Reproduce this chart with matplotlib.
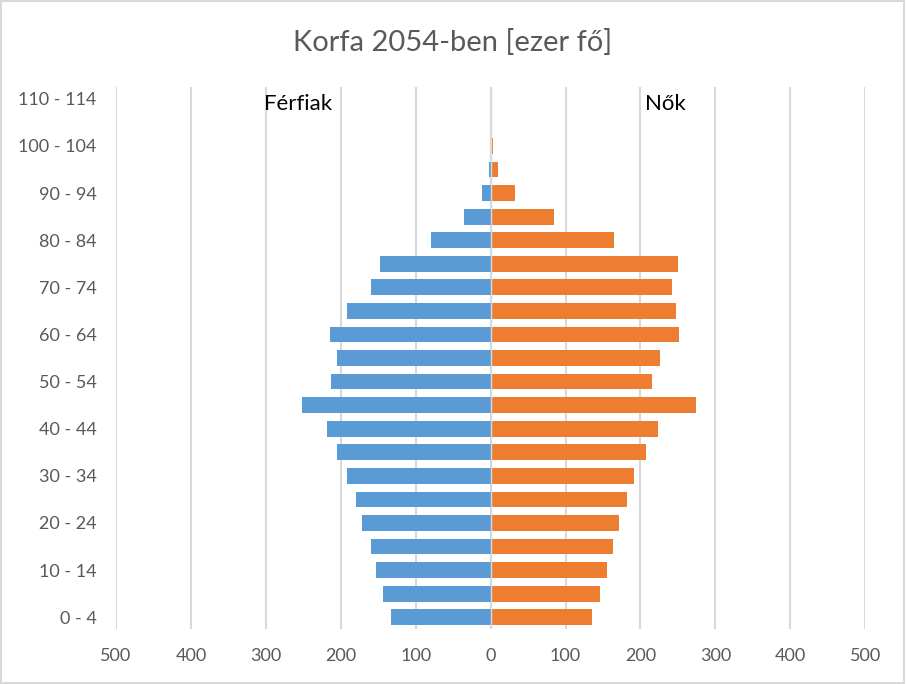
import numpy as np
import matplotlib.pyplot as plt
from matplotlib.patches import Rectangle

plt.rcParams['font.family'] = ['Lato', 'DejaVu Sans']

age_groups = ['0 - 4', '5 - 9', '10 - 14', '15 - 19', '20 - 24', '25 - 29', '30 - 34',
              '35 - 39', '40 - 44', '45 - 49', '50 - 54', '55 - 59', '60 - 64', '65 - 69',
              '70 - 74', '75 - 79', '80 - 84', '85 - 89', '90 - 94', '95 - 99',
              '100 - 104', '105 - 109', '110 - 114']
ferfiak = [133, 144, 153, 160, 171, 179, 191, 205, 219, 252, 213, 205, 215, 191,
           159, 148, 80, 35, 12, 2, 0, 0, 0]
nok = [135, 146, 155, 163, 172, 182, 192, 208, 224, 274, 216, 226, 252, 248,
       242, 250, 165, 85, 33, 10, 3, 0, 0]
x_ticks = [-500, -400, -300, -200, -100, 0, 100, 200, 300, 400, 500]

gray = '#595959'
fig = plt.figure(figsize=(9.06, 6.84), dpi=100)
ax = fig.add_axes([0.128, 0.0804, 0.827, 0.7924])

y = np.arange(len(age_groups))
ax.barh(y, [-v for v in ferfiak], height=0.67, color='#5B9BD5', zorder=3)
ax.barh(y, nok, height=0.67, color='#ED7D31', zorder=3)

ax.set_xlim(-500, 500)
ax.set_ylim(-0.5, len(age_groups) - 0.5)
ax.set_xticks(x_ticks)
ax.set_xticklabels([str(abs(t)) for t in x_ticks])
ax.set_yticks(y[::2])
ax.set_yticklabels(age_groups[::2])
ax.tick_params(axis='both', length=0, labelsize=13, labelcolor=gray)
ax.tick_params(axis='x', pad=14)
ax.tick_params(axis='y', pad=14)
ax.grid(axis='x', color='#D9D9D9', linewidth=1.5, zorder=0)
# zero line shows between the two sides
ax.axvline(0, color='#D9D9D9', linewidth=1.0, zorder=4)
for s in ax.spines.values():
    s.set_visible(False)

ax.text(-303, 21.8, 'Férfiak', fontsize=16, color='black', ha='left', va='center')
ax.text(206, 21.8, 'Nők', fontsize=16, color='black', ha='left', va='center')

fig.text(0.5, 0.938, 'Korfa 2054-ben [ezer fő]', fontsize=21, color=gray, ha='center', va='center')
fig.patches.append(Rectangle((0.001, 0.001), 0.997, 0.997, transform=fig.transFigure,
                             fill=False, edgecolor='#D9D9D9', linewidth=1.5))

fig.savefig('out.png', dpi=100)
